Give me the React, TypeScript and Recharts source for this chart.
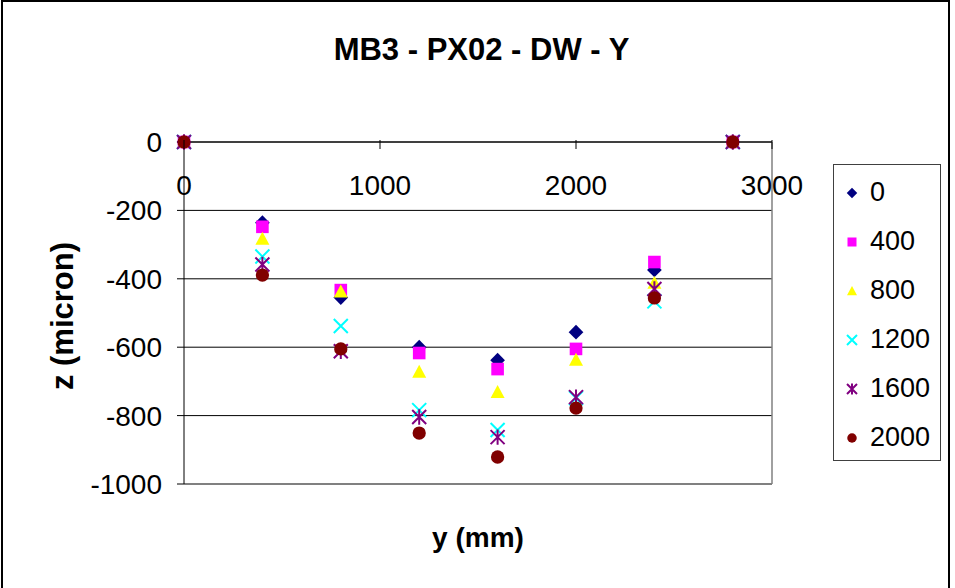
import React from "react";
import {
  ScatterChart,
  Scatter,
  XAxis,
  YAxis,
  CartesianGrid,
  ReferenceLine,
} from "recharts";

// positions along y (mm)
const yPositions = [0, 400, 800, 1200, 1600, 2000, 2400, 2800];

// z (micron) per series
const z0 = [0, -236, -455, -600, -638, -556, -374, 0];
const z400 = [0, -248, -433, -617, -664, -605, -351, 0];
const z800 = [0, -283, -437, -672, -731, -637, -412, 0];
const z1200 = [0, -335, -538, -784, -842, -749, -466, 0];
const z1600 = [0, -358, -612, -804, -863, -746, -430, 0];
const z2000 = [0, -389, -605, -851, -921, -778, -456, 0];

const seriesNames = ["0", "400", "800", "1200", "1600", "2000"];
const seriesValues = [z0, z400, z800, z1200, z1600, z2000];
const seriesColors = ["#000080", "#FF00FF", "#FFFF00", "#00FFFF", "#800080", "#800000"];
const seriesShapes = ["diamond", "square", "triangle", "x", "star", "circle"];

const xTicks = [0, 1000, 2000, 3000];
const yTicks = [0, -200, -400, -600, -800, -1000];

const FONT = "'Liberation Sans', Arial, sans-serif";

const Marker = ({ kind, color, cx, cy, s }: any) => {
  const h = s / 2;
  switch (kind) {
    case "diamond":
      return <path d={`M${cx},${cy - h * 1.05}L${cx + h * 1.05},${cy}L${cx},${cy + h * 1.05}L${cx - h * 1.05},${cy}Z`} fill={color} />;
    case "square":
      return <rect x={cx - h * 0.9} y={cy - h * 0.9} width={s * 0.9} height={s * 0.9} fill={color} />;
    case "triangle":
      return <path d={`M${cx},${cy - h}L${cx + h},${cy + h * 0.85}L${cx - h},${cy + h * 0.85}Z`} fill={color} />;
    case "x":
      return (
        <path d={`M${cx - h},${cy - h}L${cx + h},${cy + h}M${cx - h},${cy + h}L${cx + h},${cy - h}`} stroke={color} strokeWidth={2} />
      );
    case "star":
      return (
        <path
          d={`M${cx - h},${cy - h}L${cx + h},${cy + h}M${cx - h},${cy + h}L${cx + h},${cy - h}M${cx},${cy - h * 1.1}L${cx},${cy + h * 1.1}`}
          stroke={color}
          strokeWidth={2}
        />
      );
    default:
      return <circle cx={cx} cy={cy} r={h * 0.95} fill={color} />;
  }
};

const XTick = ({ x, y, payload }: any) => (
  <g>
    <line x1={x} y1={y} x2={x} y2={y + 9} stroke="#000" />
    <text x={x} y={y + 55} textAnchor="middle" fontSize={28} fontFamily={FONT} fill="#000">
      {payload.value}
    </text>
  </g>
);

export default function App() {
  const series = seriesNames.map((name, i) => ({
    name,
    color: seriesColors[i],
    shape: seriesShapes[i],
    data: yPositions.map((x, j) => ({ x, y: seriesValues[i][j] })),
  }));

  return (
    <div style={{ position: "absolute", left: 0, top: 0, width: 955, height: 588, background: "#fff", overflow: "hidden", fontFamily: FONT }}>
      <div
        style={{
          position: "absolute",
          left: 1,
          top: 0,
          width: 949,
          height: 640,
          boxSizing: "border-box",
          border: "2px solid #000",
        }}
      />
      <div
        style={{
          position: "absolute",
          left: 0,
          width: 963,
          top: 34,
          textAlign: "center",
          fontSize: 31,
          lineHeight: 1,
          fontWeight: "bold",
          whiteSpace: "nowrap",
        }}
      >
        MB3 - PX02 - DW - Y
      </div>
      <div
        style={{
          position: "absolute",
          left: 62,
          top: 316,
          transform: "translate(-50%, -50%) rotate(-90deg)",
          fontSize: 31,
          lineHeight: 1,
          fontWeight: "bold",
          whiteSpace: "nowrap",
        }}
      >
        z (micron)
      </div>
      <div
        style={{
          position: "absolute",
          left: 378,
          width: 200,
          top: 524,
          textAlign: "center",
          fontSize: 28,
          lineHeight: 1,
          fontWeight: "bold",
          whiteSpace: "nowrap",
        }}
      >
        y (mm)
      </div>

      <div style={{ position: "absolute", left: 0, top: 0 }}>
        <ScatterChart width={955} height={588} margin={{ top: 112, right: 183, bottom: 104, left: 84 }}>
          <CartesianGrid vertical={false} stroke="#000" />
          <XAxis
            type="number"
            dataKey="x"
            orientation="top"
            domain={[0, 3000]}
            ticks={xTicks}
            height={30}
            tickSize={0}
            tickLine={false}
            axisLine={{ stroke: "#000" }}
            tick={<XTick />}
          />
          <YAxis
            type="number"
            dataKey="y"
            domain={[-1000, 0]}
            ticks={yTicks}
            width={100}
            tickSize={7}
            tickMargin={15}
            axisLine={{ stroke: "#000" }}
            tickLine={{ stroke: "#000" }}
            tick={{ fontSize: 28, fontFamily: FONT, fill: "#000" }}
          />
          <ReferenceLine y={-1000} stroke="#808080" strokeWidth={1.5} />
          <ReferenceLine x={3000} stroke="#808080" strokeWidth={1.5} />
          {series.map((s) => (
            <Scatter
              key={s.name}
              name={s.name}
              data={s.data}
              isAnimationActive={false}
              shape={(p: any) => <Marker kind={s.shape} color={s.color} cx={p.cx} cy={p.cy} s={14} />}
            />
          ))}
        </ScatterChart>
      </div>

      <div
        style={{
          position: "absolute",
          left: 833,
          top: 164,
          width: 108,
          height: 297,
          boxSizing: "border-box",
          border: "1.5px solid #404040",
          paddingTop: 3,
        }}
      >
        {series.map((s) => (
          <div key={s.name} style={{ height: 49, display: "flex", alignItems: "center" }}>
            <svg width={36} height={20} style={{ flex: "none" }}>
              <Marker kind={s.shape} color={s.color} cx={18} cy={10} s={10} />
            </svg>
            <span style={{ fontSize: 27, lineHeight: 1 }}>{s.name}</span>
          </div>
        ))}
      </div>
    </div>
  );
}
